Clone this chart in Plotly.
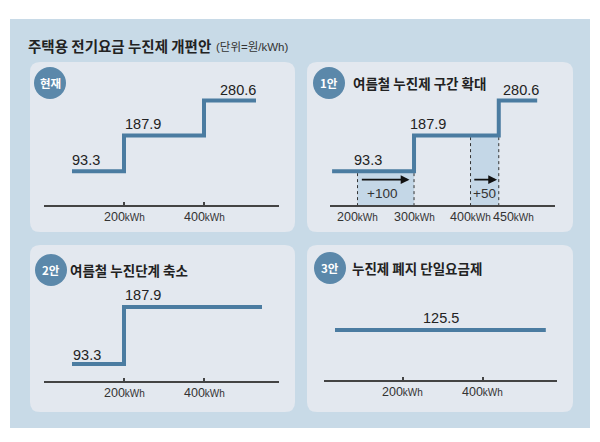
import plotly.graph_objects as go

# ---------------- data ----------------
title_main = "주택용 전기요금 누진제 개편안"
title_unit = "(단위=원/kWh)"

cur_x = [70, 200, 400, 530]
cur_y = [93.3, 187.9, 280.6, 280.6]

p1_x = [155, 300, 450, 518]
p1_y = [93.3, 187.9, 280.6, 280.6]

p2_x = [70, 200, 545]
p2_y = [93.3, 187.9, 187.9]

p3_x = [30, 557]
p3_y = [125.5, 125.5]

ticks_std = [200, 400]
ticks_p1 = [200, 300, 400, 450]
ext_ranges = [(200, 300, "+100"), (400, 450, "+50")]

panel_titles = ["현재", "여름철 누진제 구간 확대", "여름철 누진단계 축소", "누진제 폐지 단일요금제"]
badges = ["현재", "1안", "2안", "3안"]

# ---------------- style ----------------
W, H = 600, 442
OFF = 8  # page body margin offset compensation
def X(p): return (p - OFF) / W
def Y(p): return 1 - (p - OFF) / H

OUTER = "#c8dae7"
PANEL = "#e3e8ef"
LINE = "#4b7ca1"
BADGE = "#5b88aa"
SHADE = "#c4d7e7"
AX = "#444444"
NARROW = "Liberation Sans Narrow, Liberation Sans, Arial, sans-serif"
KR = "Noto Sans CJK KR, Noto Sans, sans-serif"

def kwh(v):
    return f"{v}<span style='font-size:10px'>kWh</span>"

fig = go.Figure()

def rrect(x0, y0, x1, y1, r, color):
    path = (f"M {X(x0+r)},{Y(y0)} L {X(x1-r)},{Y(y0)} Q {X(x1)},{Y(y0)} {X(x1)},{Y(y0+r)} "
            f"L {X(x1)},{Y(y1-r)} Q {X(x1)},{Y(y1)} {X(x1-r)},{Y(y1)} "
            f"L {X(x0+r)},{Y(y1)} Q {X(x0)},{Y(y1)} {X(x0)},{Y(y1-r)} "
            f"L {X(x0)},{Y(y0+r)} Q {X(x0)},{Y(y0)} {X(x0+r)},{Y(y0)} Z")
    return dict(type="path", xref="paper", yref="paper", path=path,
                fillcolor=color, line=dict(width=0), layer="below")

shapes = []
shapes.append(dict(type="rect", xref="paper", yref="paper", x0=X(10), x1=X(590),
                   y0=Y(428), y1=Y(19), fillcolor=OUTER, line=dict(width=0), layer="below"))
panels = [(30, 62, 295, 232), (307, 62, 573, 232), (30, 245, 295, 412), (307, 245, 573, 412)]
for p in panels:
    shapes.append(rrect(*p, 10, PANEL))

# axes: (x domain px, x range, y domain px (top,bottom), y range)
axes = [
    ((44, 279), (0, 587.5), (70, 205), (4, 4 + 135 / 0.3774)),
    ((330, 555), (151.3, 151.3 + 225 / 0.565), (70, 205), (4, 4 + 135 / 0.3774)),
    ((44, 279), (0, 587.5), (270, 381), (65.1, 65.1 + 111 / 0.6025)),
    ((324, 557), (2.5, 585), (280, 380), (0, 100 / 0.398)),
]
axis_ticks = [ticks_std, ticks_p1, ticks_std, ticks_std]
layout_axes = {}
for i, (xd, xr, yd, yr) in enumerate(axes):
    s = "" if i == 0 else str(i + 1)
    layout_axes["xaxis" + s] = dict(
        domain=[X(xd[0]), X(xd[1])], range=list(xr), anchor="y" + s,
        showline=True, linecolor=AX, linewidth=1.5, showgrid=False, zeroline=False,
        ticks="inside" if i != 1 else "", ticklen=3, tickwidth=1.5, tickcolor=AX,
        tickvals=axis_ticks[i], showticklabels=False, fixedrange=True)
    layout_axes["yaxis" + s] = dict(
        domain=[Y(yd[1]), Y(yd[0])], range=list(yr), anchor="x" + s,
        visible=False, fixedrange=True)

# shaded extension areas in panel 2 (below line)
ybot = axes[1][3][0]
levels = [p1_y[0], p1_y[1]]
for (a, b, lab), lvl in zip(ext_ranges, levels):
    shapes.append(dict(type="rect", xref="x2", yref="y2", x0=a, x1=b, y0=ybot, y1=lvl,
                       fillcolor=SHADE, line=dict(width=0), layer="below"))
    for xv in (a, b):
        shapes.append(dict(type="line", xref="x2", yref="y2", x0=xv, x1=xv, y0=ybot - 3, y1=lvl,
                           line=dict(color="#333", width=1, dash="dot"), layer="below"))

# badges
badge_pos = [(50, 83), (329, 83), (51, 270), (330, 268)]
for (cx, cy) in badge_pos:
    r = 16
    shapes.append(dict(type="circle", xref="paper", yref="paper", x0=X(cx - r), x1=X(cx + r),
                       y0=Y(cy + r), y1=Y(cy - r), fillcolor=BADGE, line=dict(width=0)))

# step lines
series = [(cur_x, cur_y, ""), (p1_x, p1_y, "2"), (p2_x, p2_y, "3"), (p3_x, p3_y, "4")]
for xs, ys, s in series:
    fig.add_trace(go.Scatter(x=xs, y=ys, mode="lines", line=dict(color=LINE, width=4, shape="hv"),
                             xaxis="x" + s, yaxis="y" + s, hoverinfo="skip", showlegend=False))

ann = []
ann.append(dict(xref="paper", yref="paper", x=X(26), y=Y(45), xanchor="left", yanchor="middle",
                text=f"<b>{title_main}</b>", showarrow=False,
                font=dict(family=KR, size=14.5, color="#222")))
ann.append(dict(xref="paper", yref="paper", x=X(214), y=Y(46), xanchor="left", yanchor="middle",
                text=title_unit, showarrow=False,
                font=dict(family="Liberation Sans, Noto Sans CJK KR, sans-serif", size=11.5, color="#333")))

# badge texts
for (cx, cy), t in zip(badge_pos, badges):
    ann.append(dict(xref="paper", yref="paper", x=X(cx), y=Y(cy), xanchor="center", yanchor="middle",
                    text=f"<b>{t}</b>", showarrow=False, font=dict(family=KR, size=11.5, color="white")))

# panel titles
title_pos = [None, (351, 83), (68, 270), (350, 268)]
for pos, t in zip(title_pos, panel_titles):
    if pos is None:
        continue
    ann.append(dict(xref="paper", yref="paper", x=X(pos[0]), y=Y(pos[1]), xanchor="left", yanchor="middle",
                    text=f"<b>{t}</b>", showarrow=False, font=dict(family=KR, size=13.5, color="#222")))

# tick labels (as annotations under each axis)
tick_label_y = [217, 217, 393, 392]
for i, (tv, ty) in enumerate(zip(axis_ticks, tick_label_y)):
    s = "" if i == 0 else str(i + 1)
    for v in tv:
        ann.append(dict(xref="x" + s, yref="paper", x=v, y=Y(ty), xanchor="center", yanchor="middle",
                        xshift=15 if (i == 1 and v == 450) else 0,
                        text=kwh(v), showarrow=False, font=dict(family=NARROW, size=12.5, color="#333")))

# value labels: (axis suffix, x position, value, y shift)
vlabels = [
    ("", 105, cur_y[0], 11), ("", 247.5, cur_y[1], 12), ("", 485, cur_y[2], 11),
    ("2", 218, p1_y[0], 11), ("2", 324, p1_y[1], 12), ("2", 489, p1_y[2], 11),
    ("3", 107.5, p2_y[0], 9), ("3", 247.5, p2_y[1], 12),
    ("4", 295, p3_y[0], 12),
]
for s, xv, v, sh in vlabels:
    ann.append(dict(xref="x" + s, yref="y" + s, x=xv, y=v, yshift=sh, xanchor="center", yanchor="middle",
                    text=f"{v}", showarrow=False, font=dict(family=NARROW, size=14.5, color="#222")))

# arrows and increments
arrow_spans = [(205, 292, 244), (404, 447, 424)]
for (a0, a1, tx), (_, _, lab) in zip(arrow_spans, ext_ranges):
    ann.append(dict(xref="x2", yref="y2", x=a1, y=71.2, axref="x2", ayref="y2", ax=a0, ay=71.2,
                    showarrow=True, arrowhead=2, arrowsize=1.1, arrowwidth=1.6, arrowcolor="#111",
                    text=""))
    ann.append(dict(xref="x2", yref="y2", x=tx, y=35, xanchor="center", yanchor="middle",
                    text=lab, showarrow=False, font=dict(family=NARROW, size=13.5, color="#333")))

fig.update_layout(width=W, height=H, margin=dict(l=0, r=0, t=0, b=0),
                  paper_bgcolor="white", plot_bgcolor="rgba(0,0,0,0)",
                  shapes=shapes, annotations=ann, showlegend=False, **layout_axes)

fig.write_html("out.html")
